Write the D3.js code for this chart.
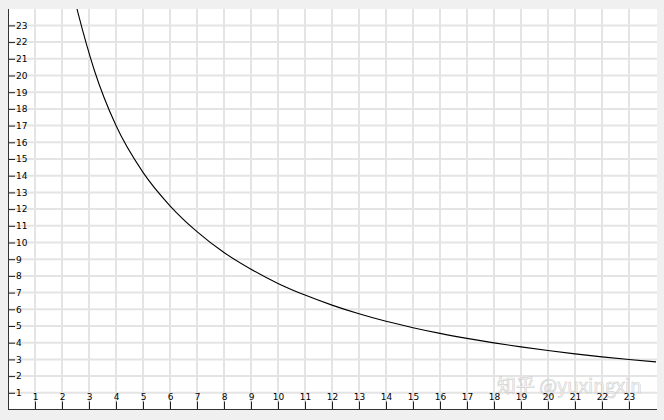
<!DOCTYPE html>
<html>
<head>
<meta charset="utf-8">
<script src="https://cdn.jsdelivr.net/npm/d3@7"></script>
<style>
  body { margin:0; background:#f0f0f0; }
  svg { display:block; }
  .tick text { font-family: "DejaVu Sans", sans-serif; font-size:9px; fill:#000; }
</style>
</head>
<body>
<div id="chart"></div>
<script>
// tick labels on both axes
const xTicks = [1,2,3,4,5,6,7,8,9,10,11,12,13,14,15,16,17,18,19,20,21,22,23]
const yTicks = [1,2,3,4,5,6,7,8,9,10,11,12,13,14,15,16,17,18,19,20,21,22,23]
// points
const xs = [2.4, 2.6, 3.2, 4, 5, 6, 7, 8, 9, 10, 11, 12, 13, 14, 15, 16, 17, 18, 19, 20, 21, 22, 23, 24]
const ys = [25.0, 23.7, 20.3, 17.0, 14.2, 12.2, 10.65, 9.4, 8.4, 7.55, 6.85, 6.25, 5.73, 5.28, 4.9, 4.56, 4.26, 3.99, 3.75, 3.53, 3.33, 3.15, 2.99, 2.85]

const W = 664, H = 420
const plot = {left:8, right:657, top:9, bottom:409.5}

const svg = d3.select("#chart").append("svg").attr("width",W).attr("height",H)
svg.append("rect").attr("width",W).attr("height",H).attr("fill","#f0f0f0")
svg.append("rect")
  .attr("x",plot.left).attr("y",plot.top)
  .attr("width",plot.right-plot.left).attr("height",plot.bottom-plot.top)
  .attr("fill","#fff")

const x = d3.scaleLinear().domain([0,24]).range([8,656])
const y = d3.scaleLinear().domain([0,24]).range([409.5,8.7])

// grid
const grid = svg.append("g")
grid.selectAll(".vg").data(xTicks).enter().append("line")
  .attr("x1",d=>x(d)).attr("x2",d=>x(d))
  .attr("y1",plot.top).attr("y2",plot.bottom)
  .attr("stroke","#e4e4e4").attr("stroke-width",2)
grid.selectAll(".hg").data(yTicks).enter().append("line")
  .attr("x1",plot.left).attr("x2",plot.right)
  .attr("y1",d=>y(d)).attr("y2",d=>y(d))
  .attr("stroke","#e4e4e4").attr("stroke-width",2)

// curve
svg.append("clipPath").attr("id","clip").append("rect")
  .attr("x",plot.left).attr("y",plot.top)
  .attr("width",plot.right-plot.left).attr("height",plot.bottom-plot.top)
const pts = xs.map((v,i)=>[v,ys[i]])
const line = d3.line().x(d=>x(d[0])).y(d=>y(d[1])).curve(d3.curveMonotoneX)
svg.append("path").datum(pts)
  .attr("clip-path","url(#clip)")
  .attr("d",line).attr("fill","none").attr("stroke","#000").attr("stroke-width",1.1)

// watermark
svg.append("text")
  .attr("x",497).attr("y",393)
  .attr("font-family","'Noto Sans CJK SC', sans-serif")
  .attr("font-size",19)
  .attr("fill","#fff").attr("fill-opacity",0.6)
  .attr("stroke","#c4c4c4").attr("stroke-width",0.7).attr("stroke-opacity",0.8)
  .text("知乎 @yuxingxin")

// axes
const xAxis = d3.axisTop(x).tickValues(xTicks).tickSize(8).tickPadding(2).tickFormat(d3.format("d"))
const xg = svg.append("g").attr("transform",`translate(0,${plot.bottom})`).call(xAxis)
xg.select(".domain").remove()
xg.selectAll(".tick line").attr("stroke","#222")
xg.selectAll(".tick text").attr("dy","0.1em")

const yAxis = d3.axisRight(y).tickValues(yTicks).tickSize(7).tickPadding(1).tickFormat(d3.format("d"))
const yg = svg.append("g").attr("transform",`translate(${plot.left},0)`).call(yAxis)
yg.select(".domain").remove()
yg.selectAll(".tick line").attr("stroke","#222")

svg.append("line").attr("x1",plot.left+0.5).attr("x2",plot.left+0.5)
  .attr("y1",plot.top).attr("y2",plot.bottom).attr("stroke","#333")
svg.append("line").attr("x1",plot.left).attr("x2",plot.right)
  .attr("y1",plot.bottom).attr("y2",plot.bottom).attr("stroke","#333")
</script>
</body>
</html>
